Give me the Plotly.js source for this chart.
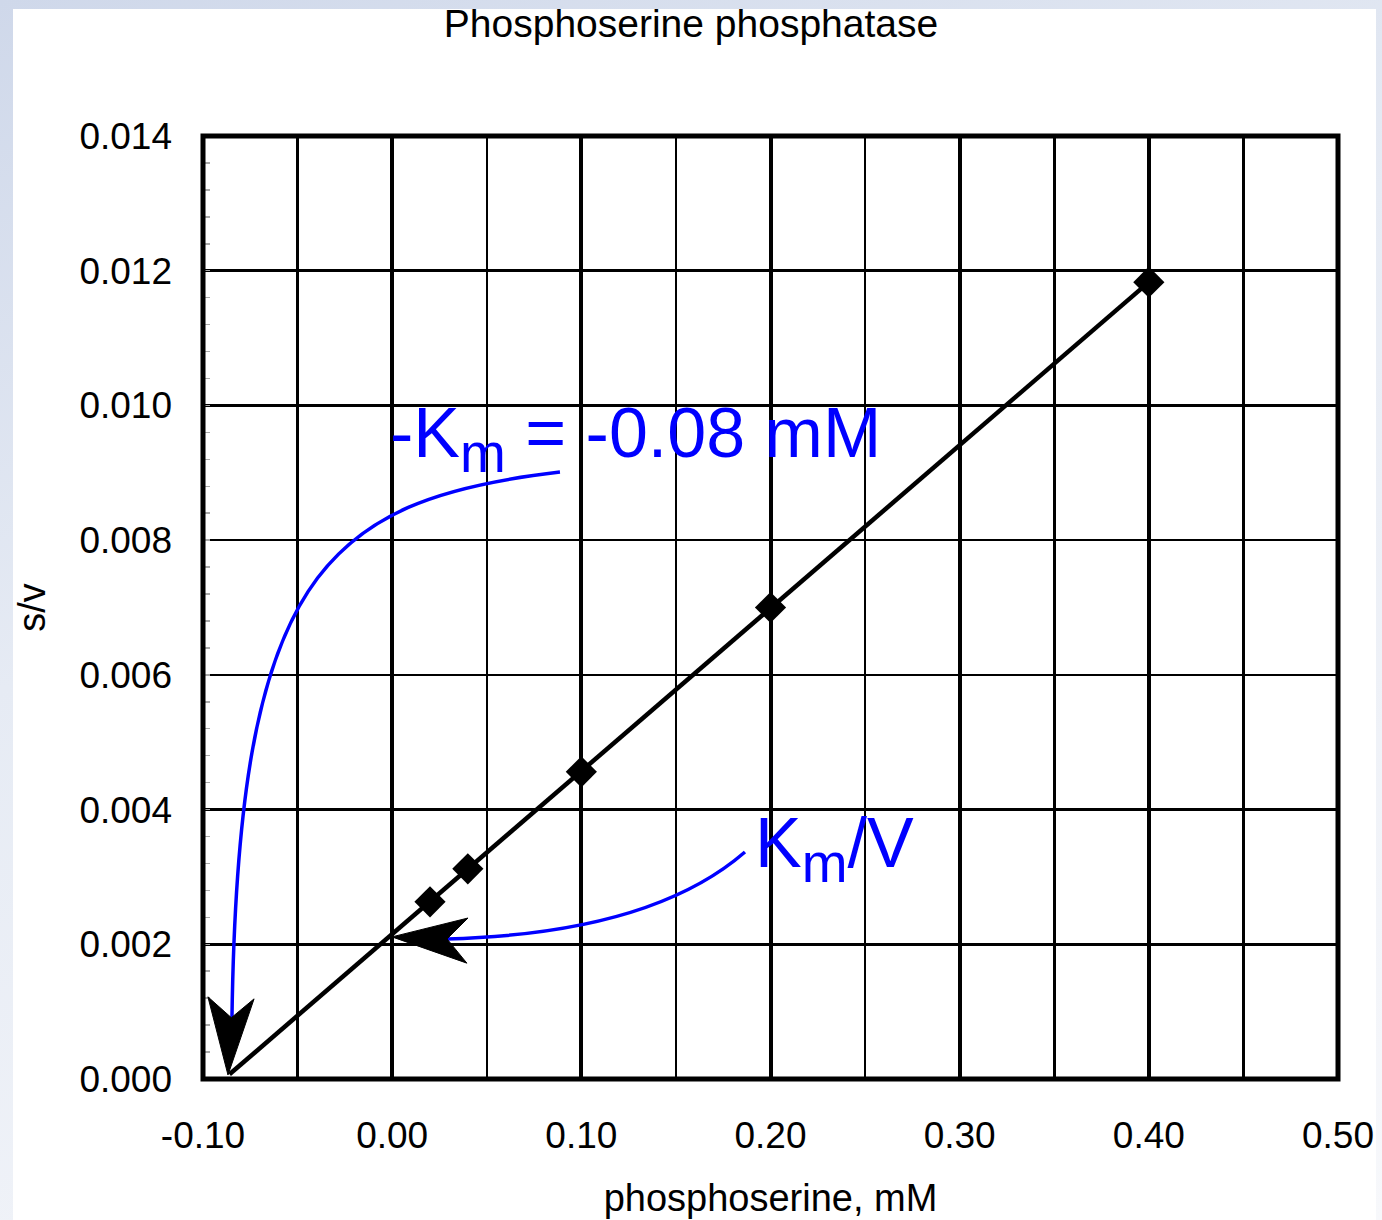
<!DOCTYPE html>
<html>
<head>
<meta charset="utf-8">
<script src="https://cdn.plot.ly/plotly-3.0.1.min.js"></script>
<style>
  html, body { margin: 0; padding: 0; }
  body {
    width: 1382px; height: 1220px; overflow: hidden; position: relative;
    background: linear-gradient(160deg, #cfd8ea 0%, #e6ebf4 40%, #f7f8fb 100%);
  }
  #sheet { position: absolute; left: 13px; top: 9px; width: 1363px; height: 1211px; background: #ffffff; }
  #chart { position: absolute; left: 0; top: 0; width: 1382px; height: 1220px; }
</style>
</head>
<body>
<div id="sheet"></div>
<div id="chart"></div>
<script>
// Measured data: substrate concentration (mM) and s/v
const substrate = [0.02, 0.04, 0.10, 0.20, 0.40];
const sOverV    = [0.00263, 0.00312, 0.00456, 0.00700, 0.01183];

// Hanes-Woolf fitted line (drawn from x-intercept to the last point)
const fitX = [-0.086, 0.40];
const fitY = [0.00007, 0.01183];

const xTickVals = [-0.10, 0.00, 0.10, 0.20, 0.30, 0.40, 0.50];
const xTickText = ['-0.10', '0.00', '0.10', '0.20', '0.30', '0.40', '0.50'];
const yTickVals = [0.000, 0.002, 0.004, 0.006, 0.008, 0.010, 0.012, 0.014];
const yTickText = ['0.000', '0.002', '0.004', '0.006', '0.008', '0.010', '0.012', '0.014'];

const chartTitle = 'Phosphoserine phosphatase';
const xTitle = 'phosphoserine, mM';
const yTitle = 's/v';
const kmLabel = '-K<sub><span style="font-size:55px">m</span></sub> = -0.08 mM';
const kmvLabel = 'K<sub><span style="font-size:55px">m</span></sub>/V';

const FONT = 'Liberation Sans, Arial, Helvetica, sans-serif';
const BLUE = '#0000ff';

const traces = [
  {
    x: fitX, y: fitY, type: 'scatter', mode: 'lines',
    line: { color: '#000', width: 4.5 }, hoverinfo: 'skip', showlegend: false
  },
  {
    x: substrate, y: sOverV, type: 'scatter', mode: 'markers',
    marker: { symbol: 'diamond', size: 24, color: '#000' }, showlegend: false
  }
];

const shapes = [
  // curved arrow to x-intercept (-Km)
  { type: 'path', xref: 'x', yref: 'y',
    path: 'M 0.0887 0.00901 C -0.0382 0.00860, -0.0815 0.00741, -0.0847 0.00088',
    line: { color: BLUE, width: 3.5 } },
  { type: 'path', xref: 'x', yref: 'y',
    path: 'M -0.0868 0.00006 L -0.0974 0.00122 L -0.0850 0.00091 L -0.0730 0.00119 Z',
    fillcolor: '#000', line: { color: '#000', width: 1 } },
  // curved arrow to y-intercept (Km/V)
  { type: 'path', xref: 'x', yref: 'y',
    path: 'M 0.1865 0.00337 C 0.1574 0.00266, 0.1098 0.00214, 0.0290 0.00208',
    line: { color: BLUE, width: 3.5 } },
  { type: 'path', xref: 'x', yref: 'y',
    path: 'M -0.0001 0.00211 L 0.0401 0.00239 L 0.0290 0.00208 L 0.0395 0.00172 Z',
    fillcolor: '#000', line: { color: '#000', width: 1 } },
  // plot frame
  { type: 'rect', xref: 'paper', yref: 'paper', x0: 0, x1: 1, y0: 0, y1: 1,
    line: { color: '#000', width: 5 }, layer: 'above' }
];

const annotations = [
  { x: -0.002, y: 0.00950, xref: 'x', yref: 'y', xanchor: 'left', yanchor: 'middle',
    text: kmLabel, showarrow: false, font: { family: FONT, size: 70, color: BLUE } },
  { x: 0.1905, y: 0.00342, xref: 'x', yref: 'y', xanchor: 'left', yanchor: 'middle',
    text: kmvLabel, showarrow: false, font: { family: FONT, size: 70, color: BLUE } }
];

const layout = {
  width: 1382, height: 1220,
  margin: { l: 203, r: 44, t: 136, b: 141 },
  paper_bgcolor: 'rgba(0,0,0,0)',
  plot_bgcolor: 'rgba(0,0,0,0)',
  font: { family: FONT, color: '#000' },
  showlegend: false,
  title: { text: chartTitle, font: { family: FONT, size: 39, color: '#000' },
           x: 0.5, xanchor: 'center', xref: 'container', y: 0.981, yanchor: 'middle', yref: 'container' },
  xaxis: {
    range: [-0.10, 0.50], tickvals: xTickVals, ticktext: xTickText,
    ticks: '', showline: false, zeroline: false,
    showgrid: true, gridcolor: '#000', gridwidth: 4,
    minor: { dtick: 0.05, tick0: 0, showgrid: true, gridcolor: '#000', gridwidth: 2.5, ticks: '' },
    tickfont: { family: FONT, size: 37, color: '#000' },
    ticklabelstandoff: 31,
    title: { text: xTitle, font: { family: FONT, size: 38, color: '#000' }, standoff: 29 }
  },
  yaxis: {
    range: [0, 0.014], tickvals: yTickVals, ticktext: yTickText,
    ticks: '', showline: false, zeroline: false,
    showgrid: true, gridcolor: '#000', gridwidth: 2.5,
    minor: { dtick: 0.0004, tick0: 0, showgrid: false, ticks: 'inside', ticklen: 7, tickwidth: 1.5, tickcolor: '#aaa' },
    tickfont: { family: FONT, size: 37, color: '#000' },
    ticklabelstandoff: 30,
    title: { text: yTitle, font: { family: FONT, size: 38, color: '#000' }, standoff: 22 }
  },
  shapes: shapes,
  annotations: annotations
};

Plotly.newPlot('chart', traces, layout, { displayModeBar: false, staticPlot: true });
</script>
</body>
</html>
